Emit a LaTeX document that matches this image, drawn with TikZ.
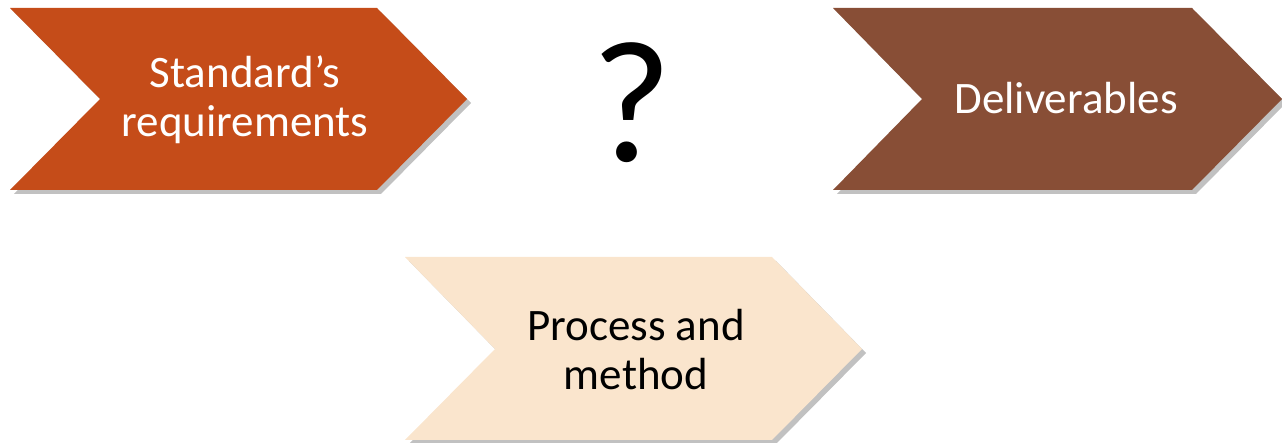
\documentclass[tikz,border=0pt]{standalone}
\usepackage{fontspec}
\setmainfont{Carlito}
\usetikzlibrary{shadows}
\definecolor{chevA}{RGB}{197,76,25}
\definecolor{chevB}{RGB}{136,78,54}
\definecolor{chevC}{RGB}{250,229,205}
\tikzset{
  chev/.style={draw=none, drop shadow={shadow xshift=2pt, shadow yshift=-2pt, opacity=0.35, fill=black!70}},
  lbl/.style={align=center, font=\fontsize{22.5}{24.5}\selectfont, inner sep=0pt},
}
\begin{document}
\begin{tikzpicture}[x=0.5pt, y=-0.5pt]
\useasboundingbox (0,0) rectangle (1282,443);
% chevrons
\path[chev, fill=chevA] (10,8) -- (377,8) -- (467,99) -- (377,190) -- (10,190) -- (100,99) -- cycle;
\path[chev, fill=chevB] (833,8) -- (1192,8) -- (1282,99) -- (1192,190) -- (833,190) -- (922,99) -- cycle;
\path[chev, fill=chevC] (405,257) -- (772,257) -- (862,349) -- (772,440) -- (405,440) -- (495,349) -- cycle;
% labels
\node[lbl, text=white] (std) at (245,100) {Standard’s\\requirements};
\node[lbl, text=white] (del) at (1066,98) {Deliverables};
\node[lbl, text=black] (proc) at (636,350) {Process and\\method};
\node[inner sep=0pt, font=\fontsize{87}{95}\selectfont] (q) at (632,103) {?};
\end{tikzpicture}
\end{document}
